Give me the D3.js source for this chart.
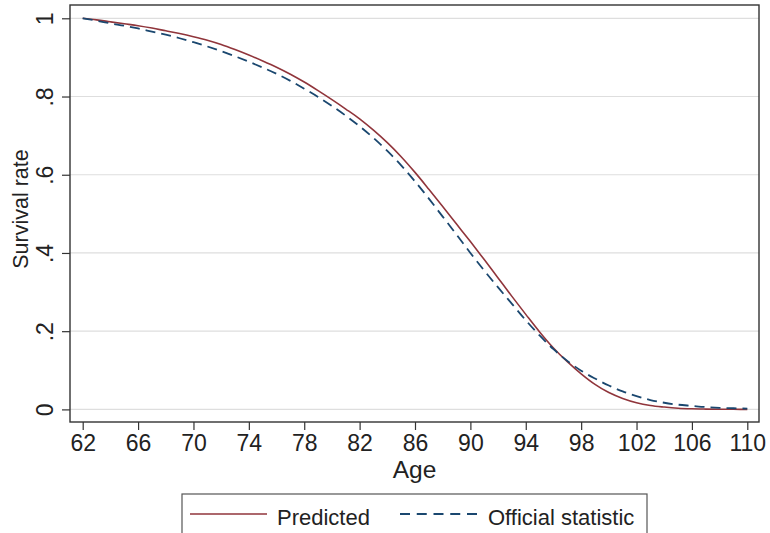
<!DOCTYPE html>
<html>
<head>
<meta charset="utf-8">
<script src="https://cdn.jsdelivr.net/npm/d3@7"></script>
<style>
  html, body { margin: 0; padding: 0; background: #fff; }
  svg { display: block; font-family: "Liberation Sans", Arial, Helvetica, sans-serif; }
</style>
</head>
<body>
<svg id="chart" width="770" height="533"></svg>
<script>
// ---- data ----
const ages = [62,63,64,65,66,67,68,69,70,71,72,73,74,75,76,77,78,79,80,81,82,83,84,85,86,87,88,89,90,91,92,93,94,95,96,97,98,99,100,101,102,103,104,105,106,107,108,109,110];
const predicted = [1.000,0.996,0.991,0.986,0.981,0.975,0.968,0.961,0.953,0.944,0.933,0.920,0.906,0.891,0.875,0.857,0.837,0.815,0.792,0.768,0.743,0.714,0.682,0.646,0.606,0.563,0.519,0.474,0.429,0.383,0.336,0.289,0.243,0.198,0.157,0.122,0.091,0.064,0.043,0.028,0.017,0.010,0.006,0.003,0.0015,0.0008,0.0004,0.0002,0.0001];
const official = [1.000,0.994,0.987,0.981,0.974,0.966,0.958,0.949,0.939,0.928,0.916,0.903,0.889,0.874,0.858,0.840,0.820,0.799,0.776,0.751,0.724,0.694,0.661,0.624,0.583,0.539,0.493,0.447,0.400,0.355,0.312,0.270,0.228,0.189,0.154,0.124,0.099,0.079,0.061,0.046,0.034,0.024,0.017,0.012,0.009,0.006,0.004,0.003,0.002];
const xTicks = [62,66,70,74,78,82,86,90,94,98,102,106,110];
const yTicks = [0,0.2,0.4,0.6,0.8,1];
const yTickLabels = ["0",".2",".4",".6",".8","1"];
const seriesNames = ["Predicted","Official statistic"];
const xTitle = "Age", yTitle = "Survival rate";

// ---- layout ----
const svg = d3.select("#chart");
const frame = {left: 70, right: 759, top: 5, bottom: 422};
const x = d3.scaleLinear().domain([62,110]).range([82.7,747.3]);
const y = d3.scaleLinear().domain([0,1]).range([409.4,18.3]);
const textColor = "#222";
const red = "#90353b", navy = "#1a476f";

// gridlines
svg.append("g").selectAll("line").data(yTicks).join("line")
  .attr("x1", frame.left).attr("x2", frame.right)
  .attr("y1", d => y(d)).attr("y2", d => y(d))
  .attr("stroke", "#dedede").attr("stroke-width", 1.2);

// lines
const line = d3.line().x(d => x(d[0])).y(d => y(d[1])).curve(d3.curveMonotoneX);
svg.append("path").datum(ages.map((a,i) => [a, predicted[i]]))
  .attr("d", line).attr("fill", "none").attr("stroke", red).attr("stroke-width", 1.6);
svg.append("path").datum(ages.map((a,i) => [a, official[i]]))
  .attr("d", line).attr("fill", "none").attr("stroke", navy).attr("stroke-width", 1.8)
  .attr("stroke-dasharray", "10,6");

// frame
svg.append("rect").attr("x", frame.left).attr("y", frame.top)
  .attr("width", frame.right - frame.left).attr("height", frame.bottom - frame.top)
  .attr("fill", "none").attr("stroke", "#333").attr("stroke-width", 1.4);

// x axis
const xAxis = d3.axisBottom(x).tickValues(xTicks).tickSize(8).tickPadding(6).tickFormat(d3.format("d"));
const gx = svg.append("g").attr("transform", `translate(0,${frame.bottom})`).call(xAxis);
gx.select(".domain").remove();
gx.selectAll(".tick line").attr("stroke", "#333").attr("stroke-width", 1.2);
gx.selectAll(".tick text").attr("fill", textColor).style("font-size", "23px")
  .attr("y", 28.5).attr("dy", null);

// y axis
const yAxis = d3.axisLeft(y).tickValues(yTicks).tickSize(8)
  .tickFormat((d,i) => yTickLabels[i]);
const gy = svg.append("g").attr("transform", `translate(${frame.left},0)`).call(yAxis);
gy.select(".domain").remove();
gy.selectAll(".tick line").attr("stroke", "#333").attr("stroke-width", 1.2);
gy.selectAll(".tick text").attr("fill", textColor).style("font-size", "23px")
  .attr("x", null).attr("dy", null).attr("text-anchor", "middle")
  .attr("transform", "translate(-17,0) rotate(-90)");

// axis titles
svg.append("text").attr("x", (frame.left + frame.right)/2).attr("y", 478)
  .attr("text-anchor", "middle").attr("fill", textColor).style("font-size", "24.5px").text(xTitle);
svg.append("text").attr("transform", `translate(28,209) rotate(-90)`)
  .attr("text-anchor", "middle").attr("fill", textColor).style("font-size", "21.5px").text(yTitle);

// legend
const lg = svg.append("g");
lg.append("rect").attr("x", 182).attr("y", 494).attr("width", 465).attr("height", 60)
  .attr("fill", "#fff").attr("stroke", "#555").attr("stroke-width", 1.2);
lg.append("line").attr("x1", 190).attr("x2", 267).attr("y1", 514).attr("y2", 514)
  .attr("stroke", red).attr("stroke-width", 1.6);
lg.append("text").attr("x", 277).attr("y", 525).attr("fill", textColor).style("font-size", "22px").text(seriesNames[0]);
lg.append("line").attr("x1", 400).attr("x2", 477).attr("y1", 514).attr("y2", 514)
  .attr("stroke", navy).attr("stroke-width", 1.8).attr("stroke-dasharray", "10,6.75");
lg.append("text").attr("x", 488).attr("y", 525).attr("fill", textColor).style("font-size", "22px").text(seriesNames[1]);
</script>
</body>
</html>
